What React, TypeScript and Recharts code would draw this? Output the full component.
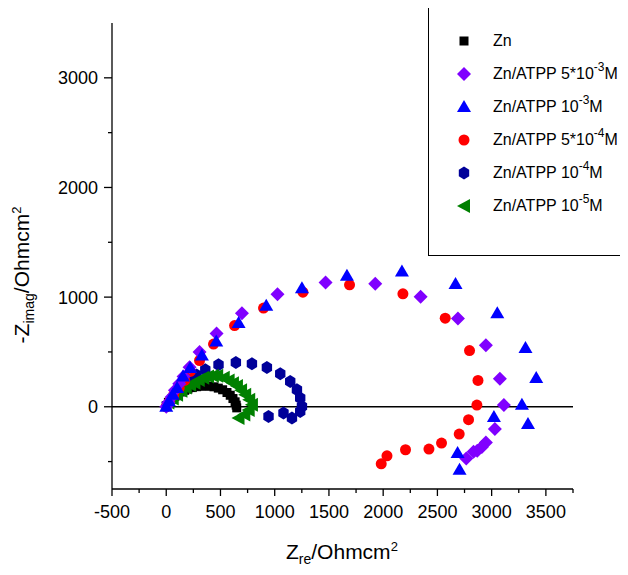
import React from 'react'
import { ScatterChart, Scatter, XAxis, YAxis, ReferenceLine } from 'recharts'

// Nyquist data, [Z_re, -Z_imag] in Ohm cm^2
const zn: [number, number][] = [
  [0, 10], [20, 40], [50, 70], [80, 95], [110, 115], [140, 135], [170, 150], [200, 162], [240, 175],
  [280, 183], [320, 188], [360, 190], [400, 188], [440, 182], [480, 170], [520, 155], [560, 130],
  [590, 105], [615, 75], [635, 45], [645, 15], [650, -10],
]
const atpp5e3: [number, number][] = [
  [0, 0], [20, 40], [50, 90], [80, 150], [120, 210], [160, 275], [215, 360], [307, 500], [464, 668],
  [698, 854], [1026, 1027], [1469, 1133], [1927, 1121], [2345, 1003], [2689, 805], [2947, 562],
  [3076, 255], [3113, 15], [3030, -203], [2947, -325], [2910, -367], [2867, -401], [2833, -410],
  [2766, -471],
]
const atpp1e3: [number, number][] = [
  [0, 0], [25, 50], [60, 110], [100, 170], [154, 276], [221, 353], [329, 468], [461, 595], [667, 763],
  [922, 921], [1251, 1082], [1666, 1194], [2173, 1233], [2667, 1119], [3052, 854], [3312, 535],
  [3411, 262], [3279, 18], [3335, -158], [3021, -94], [2686, -422], [2704, -574],
]
const atpp5e4: [number, number][] = [
  [0, 0], [30, 50], [70, 110], [120, 170], [170, 240], [221, 322], [307, 422], [436, 572], [630, 741],
  [897, 900], [1260, 1045], [1690, 1112], [2182, 1030], [2572, 808], [2796, 513], [2874, 240],
  [2864, 15], [2787, -118], [2701, -249], [2538, -331], [2422, -386], [2206, -392], [2035, -447],
  [1982, -520],
]
const atpp1e4: [number, number][] = [
  [150, 150], [220, 230], [280, 290], [360, 337], [482, 383], [642, 404], [790, 392], [928, 358],
  [1051, 301], [1143, 231], [1205, 155], [1235, 79], [1251, 3], [1235, -43], [1159, -103], [1081, -57],
  [943, -88],
]
const atpp1e5: [number, number][] = [
  [20, 40], [60, 75], [100, 110], [140, 145], [180, 175], [220, 200], [260, 220], [300, 245], [341, 264],
  [385, 275], [430, 282], [470, 283], [530, 265], [575, 240], [615, 215], [652, 190], [690, 150],
  [728, 109], [765, 65], [790, 18], [760, -30], [720, -70], [666, -103],
]

const xTicks = [-500, -250, 0, 250, 500, 750, 1000, 1250, 1500, 1750, 2000, 2250, 2500, 2750, 3000, 3250, 3500, 3750]
const yTicks = [-500, 0, 500, 1000, 1500, 2000, 2500, 3000]

const FONT = '"Liberation Sans", Arial, sans-serif'

const toPts = (d: [number, number][]) => d.map(([x, y]) => ({ x, y }))

const Square = ({ cx, cy, fill }: any) => <rect x={cx - 4.5} y={cy - 4.5} width={9} height={9} fill={fill} />
const Diamond = ({ cx, cy, fill }: any) => (
  <polygon points={`${cx},${cy - 7} ${cx + 7},${cy} ${cx},${cy + 7} ${cx - 7},${cy}`} fill={fill} />
)
const TriUp = ({ cx, cy, fill }: any) => (
  <polygon points={`${cx},${cy - 7} ${cx + 7},${cy + 5} ${cx - 7},${cy + 5}`} fill={fill} />
)
const Dot = ({ cx, cy, fill }: any) => <circle cx={cx} cy={cy} r={5.5} fill={fill} />
const Hexagon = ({ cx, cy, fill }: any) => {
  const pts = [0, 1, 2, 3, 4, 5]
    .map((i) => {
      const a = (Math.PI / 3) * i - Math.PI / 2
      return `${cx + 6 * Math.cos(a)},${cy + 6.5 * Math.sin(a)}`
    })
    .join(' ')
  return <polygon points={pts} fill={fill} />
}
const TriLeft = ({ cx, cy, fill }: any) => (
  <polygon points={`${cx - 7},${cy} ${cx + 6},${cy - 7} ${cx + 6},${cy + 7}`} fill={fill} />
)

const series = [
  { name: 'Zn', data: zn, color: '#000000', shape: Square },
  { name: '5e3', data: atpp5e3, color: '#8000FF', shape: Diamond },
  { name: '1e3', data: atpp1e3, color: '#0000FF', shape: TriUp },
  { name: '5e4', data: atpp5e4, color: '#FF0000', shape: Dot },
  { name: '1e4', data: atpp1e4, color: '#000099', shape: Hexagon },
  { name: '1e5', data: atpp1e5, color: '#008000', shape: TriLeft },
]

// draw order: small loops below, big arcs on top like the original
const drawOrder = [4, 0, 5, 3, 1, 2]

const XTick = ({ x, y, payload }: any) => {
  const major = payload.value % 500 === 0
  return (
    <g>
      <line x1={x} x2={x} y1={y} y2={y + (major ? 7 : 4)} stroke="#000" strokeWidth={1.3} />
      {major && payload.value !== 3750 && (
        <text x={x} y={y + 29} textAnchor="middle" fontSize={18} fontFamily={FONT} fill="#000">
          {payload.value}
        </text>
      )}
    </g>
  )
}

const YTick = ({ x, y, payload }: any) => {
  const major = payload.value % 1000 === 0
  return (
    <g>
      <line x1={x} x2={x - (major ? 8 : 4)} y1={y} y2={y} stroke="#000" strokeWidth={1.3} />
      {major && (
        <text x={x - 14} y={y + 6.5} textAnchor="end" fontSize={18} fontFamily={FONT} fill="#000">
          {payload.value}
        </text>
      )}
    </g>
  )
}

const legendRows = [
  { base: 'Zn', exp: '', color: '#000000', shape: Square },
  { base: 'Zn/ATPP 5*10', exp: '-3', color: '#8000FF', shape: Diamond },
  { base: 'Zn/ATPP 10', exp: '-3', color: '#0000FF', shape: TriUp },
  { base: 'Zn/ATPP 5*10', exp: '-4', color: '#FF0000', shape: Dot },
  { base: 'Zn/ATPP 10', exp: '-4', color: '#000099', shape: Hexagon },
  { base: 'Zn/ATPP 10', exp: '-5', color: '#008000', shape: TriLeft },
]

export default function App() {
  return (
    <div style={{ position: 'relative', width: 620, height: 567, fontFamily: FONT }}>
      <ScatterChart width={620} height={567} margin={{ top: 15, right: 55, bottom: 0, left: 0 }}>
        <XAxis
          type="number"
          dataKey="x"
          domain={[-500, 3750]}
          ticks={xTicks}
          interval={0}
          allowDataOverflow
          height={86}
          tickSize={0}
          tickMargin={0}
          tickLine={false}
          axisLine={{ stroke: '#000', strokeWidth: 1.3 }}
          tick={<XTick />}
        />
        <YAxis
          type="number"
          dataKey="y"
          domain={[-750, 3500]}
          ticks={yTicks}
          interval={0}
          allowDataOverflow
          width={104}
          tickSize={0}
          tickMargin={0}
          tickLine={false}
          axisLine={{ stroke: '#000', strokeWidth: 1.3 }}
          tick={<YTick />}
        />
        <ReferenceLine y={0} stroke="#000" strokeWidth={1.3} />
        {drawOrder.map((i) => {
          const s = series[i]
          const Shape = s.shape
          return (
            <Scatter
              key={s.name}
              name={s.name}
              data={toPts(s.data)}
              fill={s.color}
              isAnimationActive={false}
              shape={(p: any) => <Shape cx={p.cx} cy={p.cy} fill={s.color} />}
            />
          )
        })}
      </ScatterChart>

      {/* axis titles */}
      <div style={{ position: 'absolute', left: 278, top: 531, fontSize: 21, whiteSpace: 'nowrap' }}>
        Z<sub style={{ fontSize: 14 }}>re</sub>/Ohmcm<sup style={{ fontSize: 13 }}>2</sup>
      </div>
      <div
        style={{
          position: 'absolute',
          left: 15,
          top: 267,
          fontSize: 21,
          whiteSpace: 'nowrap',
          transform: 'translate(-50%, -50%) rotate(-90deg)',
        }}
      >
        -Z<sub style={{ fontSize: 14 }}>imag</sub>/Ohmcm<sup style={{ fontSize: 13 }}>2</sup>
      </div>

      {/* legend */}
      <div
        style={{
          position: 'absolute',
          left: 420,
          top: -3,
          width: 195,
          height: 249,
          border: '1px solid #000',
          background: '#fff',
        }}
      >
        {legendRows.map((r, i) => {
          const Shape = r.shape
          return (
            <div key={i} style={{ position: 'absolute', top: 25 + i * 33, left: 0, height: 20, width: 200 }}>
              <svg width={20} height={20} style={{ position: 'absolute', left: 25, top: 0 }}>
                <Shape cx={10} cy={10} fill={r.color} />
              </svg>
              <span style={{ position: 'absolute', left: 64, top: 0, fontSize: 16, lineHeight: '20px', whiteSpace: 'nowrap' }}>
                {r.base}
                {r.exp && <sup style={{ fontSize: 12, verticalAlign: 0, position: 'relative', top: -8 }}>{r.exp}</sup>}
                {r.exp && 'M'}
              </span>
            </div>
          )
        })}
      </div>
    </div>
  )
}
